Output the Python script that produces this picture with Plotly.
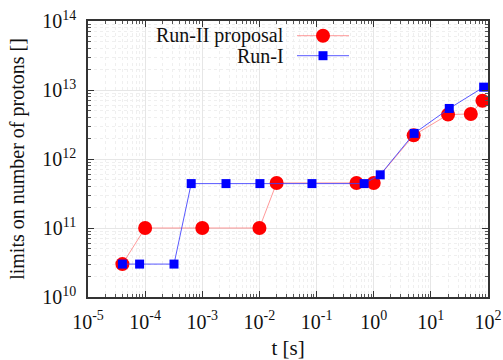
import plotly.graph_objects as go

# Data
run2_t = [4e-5, 1e-4, 1e-3, 1e-2, 2e-2, 0.5, 1.0, 5.0, 20.0, 50.0, 80.0]
run2_n = [3e10, 1e11, 1e11, 1e11, 4.5e11, 4.5e11, 4.5e11, 2.2e12, 4.4e12, 4.5e12, 7e12]

run1_t = [4e-5, 8e-5, 3.2e-4, 6.4e-4, 2.6e-3, 1.02e-2, 0.083, 0.68, 1.3, 5.1, 21.0, 84.0]
run1_n = [3e10, 3e10, 3e10, 4.4e11, 4.4e11, 4.4e11, 4.4e11, 4.4e11, 5.9e11, 2.35e12, 5.4e12, 1.1e13]

x_tickvals = [1e-5, 1e-4, 1e-3, 1e-2, 1e-1, 1e0, 1e1, 1e2]
x_ticktext = ["10<sup>-5</sup>", "10<sup>-4</sup>", "10<sup>-3</sup>", "10<sup>-2</sup>",
              "10<sup>-1</sup>", "10<sup>0</sup>", "10<sup>1</sup>", "10<sup>2</sup>"]
y_tickvals = [1e10, 1e11, 1e12, 1e13, 1e14]
y_ticktext = ["10<sup>10</sup>", "10<sup>11</sup>", "10<sup>12</sup>", "10<sup>13</sup>", "10<sup>14</sup>"]

series_names = ["Run-II proposal", "Run-I"]

FONT = "Liberation Serif"

fig = go.Figure()
fig.add_trace(go.Scatter(x=run2_t, y=run2_n, mode="lines+markers", name=series_names[0],
                         cliponaxis=False,
                         line=dict(color="rgba(255,110,110,0.7)", width=1),
                         marker=dict(symbol="circle", size=14, color="#ff0000", line=dict(width=0))))
fig.add_trace(go.Scatter(x=run1_t, y=run1_n, mode="lines+markers", name=series_names[1],
                         cliponaxis=False,
                         line=dict(color="rgba(60,60,255,0.85)", width=1),
                         marker=dict(symbol="square", size=9, color="#0000ff", line=dict(width=0))))

axis_common = dict(
    type="log", automargin=False,
    showline=True, linecolor="#333333", linewidth=1.5, mirror="allticks",
    ticks="inside", ticklen=6, tickcolor="#333333", tickwidth=1,
    showgrid=True, gridcolor="#e6e6e6", gridwidth=1,
    zeroline=False,
    tickfont=dict(family=FONT, size=20, color="#111111"),
    minor=dict(dtick="D1", ticks="inside", ticklen=3, tickcolor="#555555", showgrid=True,
               gridcolor="#efefef", griddash="dot"),
)

fig.update_xaxes(**axis_common, range=[-5, 2], tickvals=x_tickvals, ticktext=x_ticktext,
                 ticklabelstandoff=6,
                 title=dict(text="t [s]", font=dict(family=FONT, size=21, color="#111111"), standoff=10))
fig.update_yaxes(**axis_common, range=[10, 14], tickvals=y_tickvals, ticktext=y_ticktext,
                 ticklabelstandoff=6,
                 title=dict(text="limits on number of protons []", font=dict(family=FONT, size=20, color="#111111"), standoff=12))

W, H = 503, 360
L, R, T, B = 88, 15, 21, 63
pw, ph = W - L - R, H - T - B

def px(xp):
    return (xp - L) / pw

def py(yp):
    return 1 - (yp - T) / ph

# Custom legend (text left of sample, as in reference)
legend_rows = [(series_names[0], 35.7, "circle", 14, "#ff0000", "rgba(255,110,110,0.7)"),
               (series_names[1], 55.7, "rect", 9, "#0000ff", "rgba(60,60,255,0.85)")]

for name, yy, sym, sz, mcol, lcol in legend_rows:
    fig.add_annotation(xref="paper", yref="paper", x=px(286), y=py(yy), text=name,
                       showarrow=False, xanchor="right", yanchor="middle",
                       font=dict(family=FONT, size=20, color="#111111"))
    fig.add_shape(type="line", xref="paper", yref="paper", x0=px(297), x1=px(349),
                  y0=py(yy), y1=py(yy), line=dict(color=lcol, width=1))
    fig.add_shape(type=sym, xref="paper", yref="paper", xsizemode="pixel", ysizemode="pixel",
                  xanchor=px(323), yanchor=py(yy), x0=-sz / 2, x1=sz / 2, y0=-sz / 2, y1=sz / 2,
                  fillcolor=mcol, line=dict(width=0))

fig.update_layout(
    width=W, height=H,
    margin=dict(l=L, r=R, t=T, b=B),
    paper_bgcolor="white", plot_bgcolor="white",
    showlegend=False,
    font=dict(family=FONT),
)

fig.write_html("out.html", config={"displayModeBar": False},
               post_script="document.body.style.margin='0';document.body.style.overflow='hidden';")
